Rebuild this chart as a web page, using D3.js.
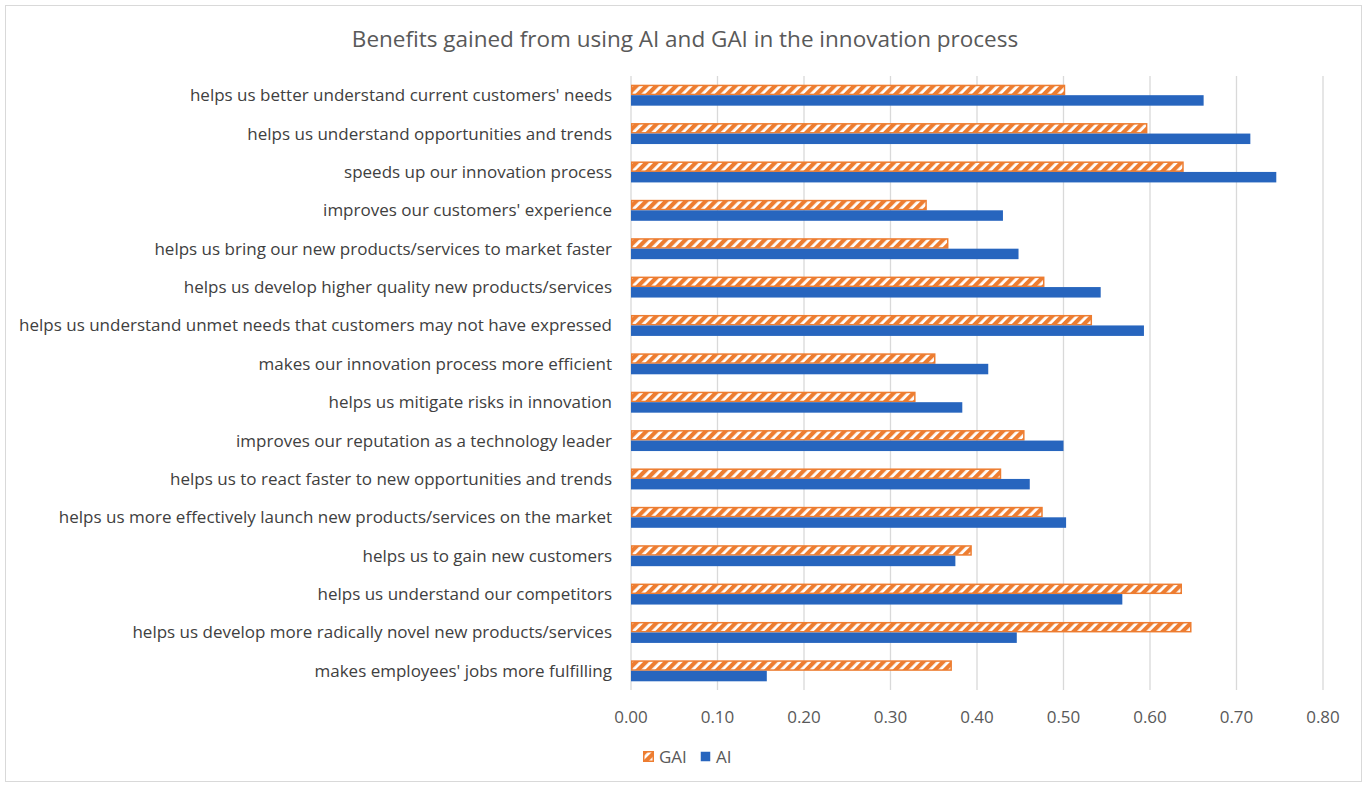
<!DOCTYPE html>
<html>
<head>
<meta charset="utf-8">
<script src="https://cdn.jsdelivr.net/npm/d3@7"></script>
<style>
	body { margin: 0; background: #fff; }
	svg { font-family: "Open Sans", "Noto Sans", sans-serif; }
</style>
</head>
<body>
<svg width="1368" height="785"></svg>
<script>

const categories = [
	"helps us better understand current customers' needs",
	"helps us understand opportunities and trends",
	"speeds up our innovation process",
	"improves our customers' experience",
	"helps us bring our new products/services to market faster",
	"helps us develop higher quality new products/services",
	"helps us understand unmet needs that customers may not have expressed",
	"makes our innovation process more efficient",
	"helps us mitigate risks in innovation",
	"improves our reputation as a technology leader",
	"helps us to react faster to new opportunities and trends",
	"helps us more effectively launch new products/services on the market",
	"helps us to gain new customers",
	"helps us understand our competitors",
	"helps us develop more radically novel new products/services",
	"makes employees' jobs more fulfilling"
];

const gaiValues = [0.502, 0.597, 0.639, 0.342, 0.367, 0.478, 0.533, 0.352, 0.329, 0.455, 0.428, 0.476, 0.394, 0.637, 0.648, 0.371];
const aiValues  = [0.662, 0.716, 0.746, 0.430, 0.448, 0.543, 0.593, 0.413, 0.383, 0.500, 0.461, 0.503, 0.375, 0.568, 0.446, 0.157];

const seriesNames = ['GAI', 'AI'];
const xTicks = [0, 0.1, 0.2, 0.3, 0.4, 0.5, 0.6, 0.7, 0.8];

const ORANGE = '#ed7d31';
const BLUE = '#2765be';
const PLOT = { left: 631, right: 1323, top: 76, bottom: 690 };

const svg = d3.select('svg');

// chart frame
svg.append('rect')
	.attr('x', 5.5).attr('y', 5.5)
	.attr('width', 1356).attr('height', 776)
	.attr('fill', '#fff')
	.attr('stroke', '#d9d9d9');

// hatch pattern for GAI
const defs = svg.append('defs');
const pat = defs.append('pattern')
	.attr('id', 'hatch')
	.attr('patternUnits', 'userSpaceOnUse')
	.attr('width', 7).attr('height', 7)
	.attr('patternTransform', 'rotate(45)');
pat.append('rect').attr('width', 7).attr('height', 7).attr('fill', '#fff');
pat.append('rect').attr('width', 4.2).attr('height', 7).attr('fill', ORANGE);

const x = d3.scaleLinear().domain([0, 0.8]).range([PLOT.left, PLOT.right]);
const y = d3.scaleBand().domain(categories).range([PLOT.top, PLOT.bottom]);
const ySub = d3.scaleBand().domain(seriesNames).range([0, y.bandwidth()]).paddingOuter(0.83);

// grid lines
svg.append('g').selectAll('line')
	.data(xTicks)
	.enter().append('line')
	.attr('x1', d => x(d)).attr('x2', d => x(d))
	.attr('y1', PLOT.top).attr('y2', PLOT.bottom)
	.attr('stroke', '#d9d9d9')
	.attr('stroke-width', 1.3);

// bars
const rows = categories.map((c, i) => ({ cat: c, GAI: gaiValues[i], AI: aiValues[i] }));

const groups = svg.append('g').selectAll('g')
	.data(rows)
	.enter().append('g')
	.attr('transform', d => 'translate(0,' + y(d.cat) + ')');

groups.append('rect')
	.attr('x', x(0) + 0.75)
	.attr('y', ySub('GAI') + 0.75)
	.attr('width', d => x(d.GAI) - x(0) - 1.5)
	.attr('height', ySub.bandwidth() - 1.5)
	.attr('fill', 'url(#hatch)')
	.attr('stroke', ORANGE)
	.attr('stroke-width', 1.5);

groups.append('rect')
	.attr('x', x(0))
	.attr('y', ySub('AI'))
	.attr('width', d => x(d.AI) - x(0))
	.attr('height', ySub.bandwidth())
	.attr('fill', BLUE);

// category labels
svg.append('g').selectAll('text')
	.data(categories)
	.enter().append('text')
	.attr('x', 612)
	.attr('y', d => y(d) + y.bandwidth() / 2)
	.attr('dy', '0.35em')
	.attr('text-anchor', 'end')
	.attr('font-size', 17)
	.attr('fill', '#404040')
	.text(d => d);

// x axis tick labels
svg.append('g').selectAll('text')
	.data(xTicks)
	.enter().append('text')
	.attr('x', d => x(d))
	.attr('y', 723)
	.attr('text-anchor', 'middle')
	.attr('font-size', 17)
	.attr('fill', '#595959')
	.text(d => d3.format('.2f')(d));

// title
svg.append('text')
	.attr('x', 685)
	.attr('y', 47)
	.attr('text-anchor', 'middle')
	.attr('font-size', 22.5)
	.attr('fill', '#595959')
	.text('Benefits gained from using AI and GAI in the innovation process');

// legend
const legend = svg.append('g').attr('transform', 'translate(643,751)');
const legendItems = [
	{ name: 'GAI', dx: 0, fill: 'url(#hatch)', stroke: ORANGE },
	{ name: 'AI', dx: 57, fill: BLUE, stroke: 'none' }
];
const li = legend.selectAll('g')
	.data(legendItems)
	.enter().append('g')
	.attr('transform', d => 'translate(' + d.dx + ',0)');
li.append('rect')
	.attr('x', 0.75).attr('y', 0.75)
	.attr('width', 9.5).attr('height', 9.5)
	.attr('fill', d => d.fill)
	.attr('stroke', d => d.stroke)
	.attr('stroke-width', 1.5);
li.append('text')
	.attr('x', 16)
	.attr('y', 6)
	.attr('dy', '0.35em')
	.attr('font-size', 17)
	.attr('fill', '#595959')
	.text(d => d.name);

</script>
</body>
</html>
